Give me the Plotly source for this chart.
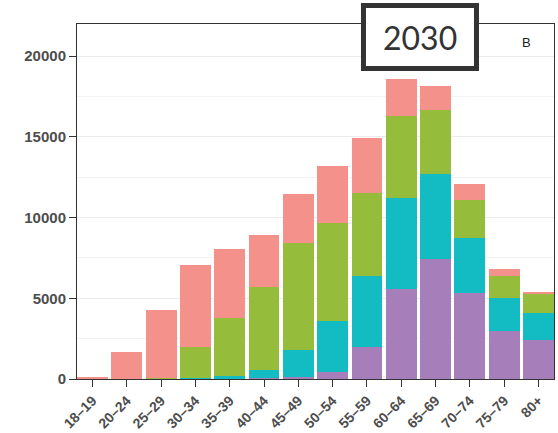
import plotly.graph_objects as go

# Age groups on the x axis
age_groups = ["18\u201319", "20\u201324", "25\u201329", "30\u201334", "35\u201339", "40\u201344",
              "45\u201349", "50\u201354", "55\u201359", "60\u201364", "65\u201369", "70\u201374",
              "75\u201379", "80+"]

# Stacked segment values, bottom to top
purple_vals = [0, 0, 0, 30, 50, 80, 110, 450, 2000, 5600, 7450, 5350, 3000, 2400]
teal_vals = [0, 0, 0, 50, 120, 500, 1680, 3150, 4350, 5600, 5250, 3400, 2000, 1700]
green_vals = [0, 0, 50, 1920, 3630, 5120, 6610, 6050, 5200, 5100, 3950, 2350, 1350, 1150]
pink_vals = [120, 1700, 4250, 5050, 4250, 3200, 3050, 3550, 3350, 2300, 1500, 1000, 450, 150]

y_ticks = [0, 5000, 10000, 15000, 20000]
year_label = "2030"
panel_tag = "B"

series = [
    (purple_vals, "#A67EBA"),
    (teal_vals, "#13BCC2"),
    (green_vals, "#96BC3C"),
    (pink_vals, "#F4918A"),
]

fig = go.Figure()
for vals, col in series:
    fig.add_trace(go.Bar(
        x=age_groups, y=vals, width=0.9,
        marker=dict(color=col, line=dict(width=0)),
        showlegend=False,
    ))

tick_font = dict(family="Liberation Sans, Arial, sans-serif", size=15,
                 color="#4D4D4D", weight="bold")

fig.update_layout(
    barmode="stack",
    width=558, height=433,
    margin=dict(l=77, r=4, t=24, b=54),
    paper_bgcolor="white",
    plot_bgcolor="white",
    xaxis=dict(
        type="category", range=[-0.45, 13.45], automargin=False,
        showline=True, linecolor="#333333", linewidth=1, mirror=True,
        ticks="outside", ticklen=7, tickcolor="#333333", tickwidth=1,
        tickangle=-45, tickfont=dict(tick_font, size=14),
        showgrid=False, zeroline=False,
    ),
    yaxis=dict(
        range=[0, 21990], automargin=False,
        tickvals=y_ticks, ticktext=[str(v) for v in y_ticks],
        showline=True, linecolor="#333333", linewidth=1, mirror=True,
        ticks="outside", ticklen=7, tickcolor="#333333", tickwidth=1,
        tickfont=tick_font,
        showgrid=True, gridcolor="#EBEBEB", gridwidth=1,
        minor=dict(tickvals=[2500, 7500, 12500, 17500], showgrid=True,
                   gridcolor="#F3F3F3", gridwidth=1, ticks=""),
        zeroline=False,
    ),
)

# Year box at the top of the panel
fig.add_shape(
    type="rect", xref="paper", yref="paper",
    x0=0.6006, x1=0.8375, y0=0.8746, y1=1.0521,
    line=dict(color="#333333", width=5), fillcolor="white", layer="above",
)
fig.add_annotation(
    x=0.719, y=0.9606, xref="paper", yref="paper",
    xanchor="center", yanchor="middle",
    text=year_label, showarrow=False,
    font=dict(family="Lato, Open Sans, sans-serif", size=32, color="#333333"),
)
fig.add_annotation(
    x=0.943, y=0.949, xref="paper", yref="paper",
    xanchor="center", yanchor="middle",
    text=panel_tag, showarrow=False,
    font=dict(family="Liberation Sans, Arial, sans-serif", size=13, color="#222222"),
)

fig.write_html("out.html")
